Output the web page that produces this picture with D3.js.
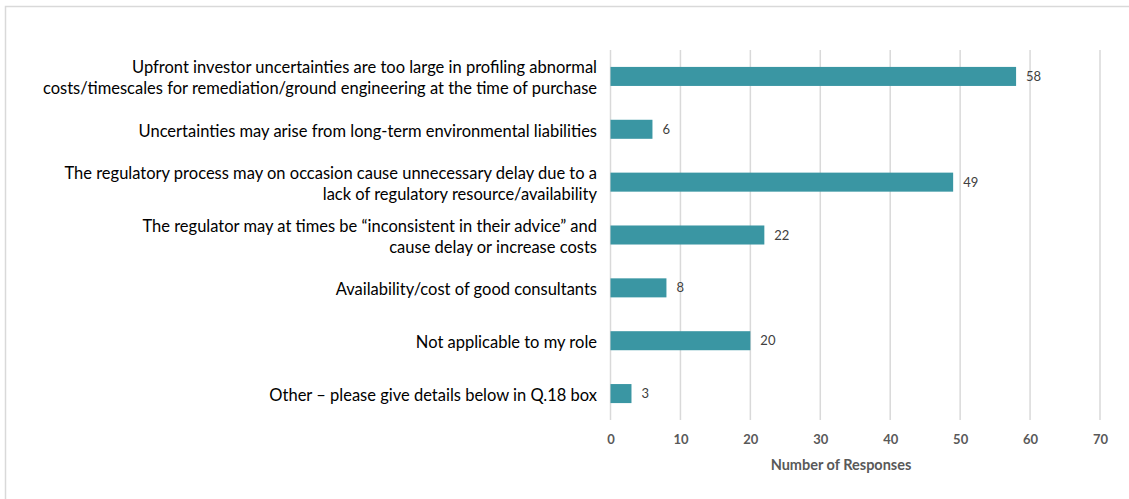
<!DOCTYPE html>
<html>
<head>
<meta charset="utf-8">
<script src="https://cdn.jsdelivr.net/npm/d3@7"></script>
<style>
  html, body { margin: 0; padding: 0; background: #fff; }
  svg { display: block; }
</style>
</head>
<body>
<svg id="chart" width="1129" height="499"></svg>
<script>
// Survey responses: barriers to investment
const categories = [
  ["Upfront investor uncertainties are too large in profiling abnormal", "costs/timescales for remediation/ground engineering at the time of purchase"],
  ["Uncertainties may arise from long-term environmental liabilities"],
  ["The regulatory process may on occasion cause unnecessary delay due to a", "lack of regulatory resource/availability"],
  ["The regulator may at times be \u201cinconsistent in their advice\u201d and", "cause delay or increase costs"],
  ["Availability/cost of good consultants"],
  ["Not applicable to my role"],
  ["Other \u2013 please give details below in Q.18 box"]
];
const responses = [58, 6, 49, 22, 8, 20, 3];
const xTicks = [0, 10, 20, 30, 40, 50, 60, 70];
const axisTitle = "Number of Responses";

const svg = d3.select("#chart");
const font = "Lato, 'Open Sans', sans-serif";

// outer frame (top and left edges visible)
svg.append("rect")
  .attr("x", 5.5).attr("y", 6.5)
  .attr("width", 1140).attr("height", 520)
  .attr("fill", "none").attr("stroke", "#d9d9d9").attr("stroke-width", 1.5);

const x = d3.scaleLinear().domain([0, 70]).range([610.5, 1100]);
const idx = d3.range(categories.length);
const y = d3.scaleBand().domain(idx).range([50, 420]).paddingInner(0.64).paddingOuter(0.32);

// vertical gridlines
svg.append("g")
  .selectAll("line")
  .data(xTicks)
  .join("line")
  .attr("x1", d => x(d)).attr("x2", d => x(d))
  .attr("y1", 50).attr("y2", 420)
  .attr("stroke", "#d9d9d9").attr("stroke-width", 1.5);

// x axis tick labels
const xAxis = d3.axisBottom(x).tickValues(xTicks).tickSize(0).tickPadding(0);
const gx = svg.append("g").attr("transform", "translate(0,435)").call(xAxis);
gx.select(".domain").remove();
gx.selectAll("text")
  .attr("font-family", font).attr("font-size", 13).attr("font-weight", "bold")
  .attr("fill", "#595959");

svg.append("text")
  .attr("x", 841).attr("y", 470)
  .attr("text-anchor", "middle")
  .attr("font-family", font).attr("font-size", 14.5).attr("font-weight", "bold")
  .attr("fill", "#595959")
  .text(axisTitle);

// bars
svg.append("g")
  .selectAll("rect")
  .data(idx)
  .join("rect")
  .attr("x", x(0))
  .attr("y", i => y(i))
  .attr("width", i => x(responses[i]) - x(0))
  .attr("height", y.bandwidth())
  .attr("fill", "#3a96a3");

// value labels
svg.append("g")
  .selectAll("text")
  .data(idx)
  .join("text")
  .attr("x", i => x(responses[i]) + 10)
  .attr("y", i => y(i) + y.bandwidth() / 2)
  .attr("dy", "0.35em")
  .attr("font-family", font).attr("font-size", 13)
  .attr("fill", "#404040")
  .text(i => responses[i]);

// category labels, right aligned left of the axis
const lineGap = 21;
const cat = svg.append("g")
  .selectAll("text")
  .data(idx)
  .join("text")
  .attr("text-anchor", "end")
  .attr("font-family", font).attr("font-size", 16.5)
  .attr("fill", "#000");
cat.each(function(i) {
  const lines = categories[i];
  const cy = y(i) + y.bandwidth() / 2 + 1.5;
  const top = cy - (lines.length - 1) * lineGap / 2;
  d3.select(this).selectAll("tspan")
    .data(lines)
    .join("tspan")
    .attr("x", 597)
    .attr("y", (d, k) => top + k * lineGap)
    .attr("dy", "0.35em")
    .text(d => d);
});
</script>
</body>
</html>
